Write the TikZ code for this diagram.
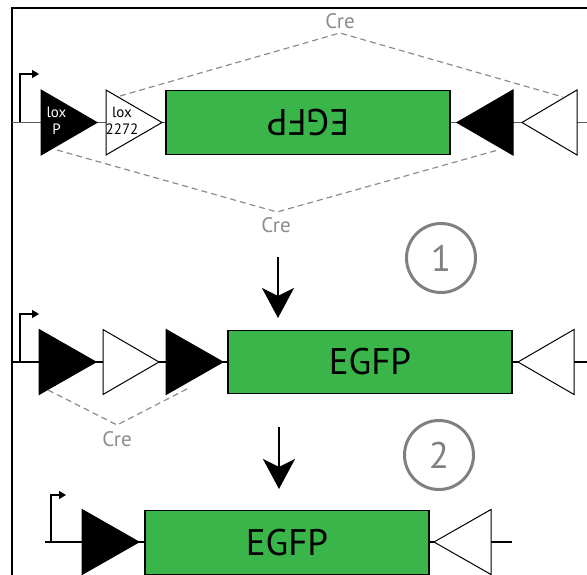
\documentclass[tikz,border=0pt]{standalone}
\usepackage{fontspec}
\setmainfont{PT Sans}
\usetikzlibrary{arrows.meta}
\definecolor{gfp}{RGB}{58,181,74}
\definecolor{cregray}{RGB}{140,140,140}
\definecolor{numgray}{RGB}{128,128,128}
\definecolor{linegray}{RGB}{90,90,90}
\tikzset{
  frameline/.style={line width=1.5pt, black},
  backbone/.style={line width=1.2pt, black},
  blacktri/.style={fill=black, draw=black, line width=1pt},
  whitetri/.style={fill=white, draw=black, line width=1pt},
  genebox/.style={draw=black, fill=gfp, line width=1.2pt, inner sep=0pt,
    minimum width=284pt, minimum height=63.5pt, font=\fontsize{37}{37}\selectfont},
  crelabel/.style={text=cregray, font=\fontsize{21}{21}\selectfont, inner sep=0pt},
  crepath/.style={draw=cregray, line width=1.2pt, dash pattern=on 6pt off 4pt},
  promoter/.style={line width=1.3pt, -{Triangle[length=7pt,width=8pt]}},
  steparrow/.style={line width=2.5pt, -{Stealth[length=30pt,width=32pt,inset=8pt]}},
  stepnum/.style={circle, draw=numgray, line width=3pt, minimum size=69pt, inner sep=0pt,
    text=numgray, font=\fontsize{37}{37}\selectfont},
  loxlabel/.style={font=\fontsize{15}{17}\selectfont, inner sep=0pt, align=center},
}
% #1 name, #2 style, #3 x of base, #4 y of centre, #5 x of apex
\newcommand{\loxsite}[5]{%
  \draw[#2] (#3,#4-32.5) coordinate (#1-top) -- (#3,#4+32.5) coordinate (#1-bot)
    -- (#5,#4) coordinate (#1-tip) -- cycle;}
\begin{document}
\begin{tikzpicture}[x=1pt,y=-1pt]
\useasboundingbox (0,0) rectangle (587,575);
% frame
\coordinate (frameBL) at (12,575);
\coordinate (frameTL) at (12,8);
\coordinate (frameTR) at (587,8);
\draw[frameline] (frameBL) -- (frameTL) -- (frameTR);

% ---------------- row 1 ----------------
\coordinate (r1L) at (12,122.5);
\coordinate (r1R) at (587,122.5);
\coordinate (p1a) at (20,122.5);
\coordinate (p1b) at (20,74);
\coordinate (p1c) at (39,74);
\draw[backbone, draw=linegray] (r1L) -- (r1R);
\draw[promoter] (p1a) -- (p1b) -- (p1c);
\loxsite{A1}{blacktri}{41}{122.5}{97}
\loxsite{B1}{whitetri}{106}{122.5}{162}
\loxsite{C1}{blacktri}{513}{122.5}{457}
\loxsite{D1}{whitetri}{577}{122.5}{522}
\node[genebox, rotate=180] (g1) at (308,122.5) {EGFP};
\node[loxlabel, text=white] (lp) at (56.5,121) {lox\\P};
\node[loxlabel] (l2272) at (122,121) {lox\\2272};

% Cre recombination paths of row 1
\node[crelabel] (cre1) at (340,21) {Cre};
\coordinate (cre1s) at (120,96);
\coordinate (cre1p) at (340,33);
\coordinate (cre1e) at (563,97);
\draw[crepath] (cre1s) -- (cre1p) -- (cre1e);
\node[crelabel] (cre2) at (276,225.5) {Cre};
\coordinate (cre2s) at (57,150);
\coordinate (cre2p) at (277,212);
\coordinate (cre2e) at (498,150);
\draw[crepath] (cre2s) -- (cre2p) -- (cre2e);

% step 1
\coordinate (s1a) at (278,257);
\coordinate (s1b) at (278,318);
\draw[steparrow] (s1a) -- (s1b);
\node[stepnum] (n1) at (441,258) {1};

% ---------------- row 2 ----------------
\coordinate (r2L) at (12,362);
\coordinate (r2R) at (587,362);
\coordinate (p2a) at (20,362);
\coordinate (p2b) at (20,314);
\coordinate (p2c) at (39,314);
\draw[backbone] (r2L) -- (r2R);
\draw[promoter] (p2a) -- (p2b) -- (p2c);
\loxsite{A2}{blacktri}{39}{362}{96}
\loxsite{B2}{whitetri}{103}{362}{159}
\loxsite{C2}{blacktri}{166}{362}{223}
\loxsite{D2}{whitetri}{574}{362}{518}
\node[genebox] (g2) at (370,362) {EGFP};

\node[crelabel] (cre3) at (117,439.5) {Cre};
\coordinate (cre3s) at (48,390);
\coordinate (cre3p) at (117,425);
\coordinate (cre3e) at (187,389);
\draw[crepath] (cre3s) -- (cre3p) -- (cre3e);

% step 2
\coordinate (s2a) at (279,427);
\coordinate (s2b) at (279,489);
\draw[steparrow] (s2a) -- (s2b);
\node[stepnum] (n2) at (439,455) {2};

% ---------------- row 3 ----------------
\coordinate (r3L) at (45,542);
\coordinate (r3R) at (512,542);
\coordinate (p3a) at (51,542);
\coordinate (p3b) at (51,495);
\coordinate (p3c) at (66,495);
\draw[backbone] (r3L) -- (r3R);
\draw[promoter] (p3a) -- (p3b) -- (p3c);
\loxsite{A3}{blacktri}{82}{542}{139}
\loxsite{D3}{whitetri}{491}{542}{434}
\node[genebox] (g3) at (287,542.5) {EGFP};
\end{tikzpicture}
\end{document}
